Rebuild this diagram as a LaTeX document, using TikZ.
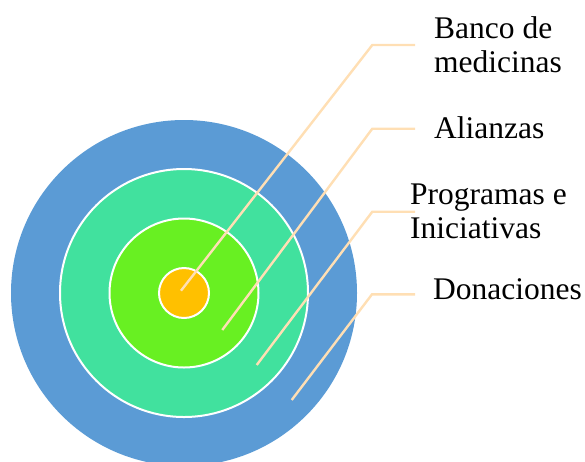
\documentclass[tikz,border=0pt]{standalone}
\usepackage{fontspec}
\setmainfont{Liberation Serif}
\definecolor{ringblue}{RGB}{91,155,213}
\definecolor{ringteal}{RGB}{65,225,158}
\definecolor{ringgreen}{RGB}{104,240,34}
\definecolor{ringorange}{RGB}{255,192,0}
\definecolor{leader}{RGB}{255,223,180}
\tikzset{
  ring/.style={circle, inner sep=0pt, draw=white, line width=2pt},
  leaderline/.style={draw=leader, line width=2.4pt},
  lbl/.style={anchor=base west, inner sep=0pt, align=left, font=\fontsize{31.5}{34}\selectfont}
}
\begin{document}
\begin{tikzpicture}[x=1pt,y=-1pt]
\useasboundingbox (0,0) rectangle (585,461);
\clip (0,0) rectangle (585,461);
\node[ring, fill=ringblue, draw=none, minimum size=346pt] (r4) at (184,293) {};
\node[ring, fill=ringteal, minimum size=248pt] (r3) at (184,293) {};
\node[ring, fill=ringgreen, minimum size=149pt] (r2) at (184,293) {};
\node[ring, fill=ringorange, minimum size=50pt] (r1) at (184,293) {};
% leader lines
\coordinate (s1) at (181,290.7);
\coordinate (k1) at (372.3,45);
\coordinate (e1) at (415,45);
\coordinate (s2) at (222.3,330);
\coordinate (k2) at (372.3,128.7);
\coordinate (e2) at (415,128.7);
\coordinate (s3) at (256.7,365);
\coordinate (k3) at (372.3,211.7);
\coordinate (e3) at (415,211.7);
\coordinate (s4) at (291.7,400);
\coordinate (k4) at (372,294.3);
\coordinate (e4) at (415,294.3);
\draw[leaderline] (s1) -- (k1) -- (e1);
\draw[leaderline] (s2) -- (k2) -- (e2);
\draw[leaderline] (s3) -- (k3) -- (e3);
\draw[leaderline] (s4) -- (k4) -- (e4);
% labels
\node[lbl] (t1) at (434,72) {Banco de\\medicinas};
\node[lbl] (t2) at (434,138) {Alianzas};
\node[lbl] (t3) at (410,238) {Programas e\\Iniciativas};
\node[lbl] (t4) at (433,299.5) {Donaciones};
\end{tikzpicture}
\end{document}
